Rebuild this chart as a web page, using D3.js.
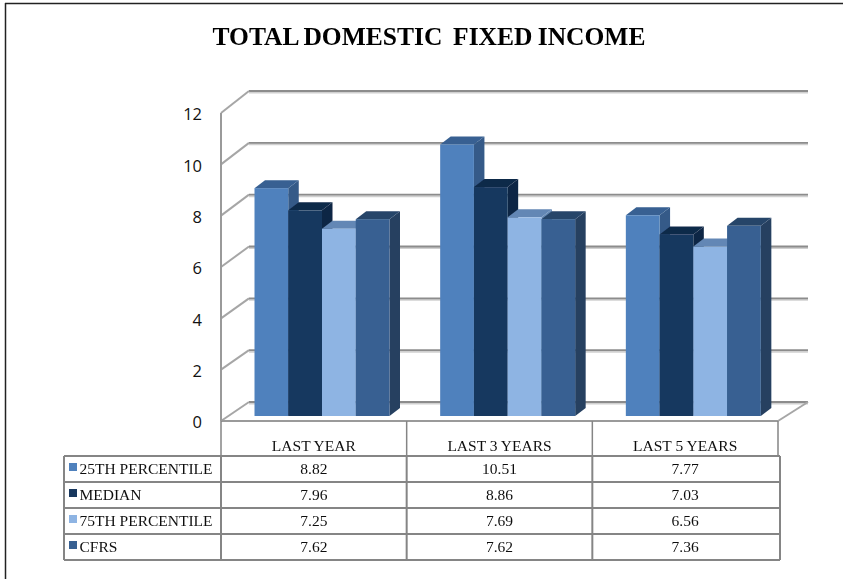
<!DOCTYPE html>
<html>
<head>
<meta charset="utf-8">
<script src="https://cdn.jsdelivr.net/npm/d3@7"></script>
<style>
html, body { margin: 0; padding: 0; background: #fff; overflow: hidden; }
svg { display: block; }
</style>
</head>
<body>
<div id="chart"></div>
<script>
// Donnees
const categories = ["LAST YEAR", "LAST 3 YEARS", "LAST 5 YEARS"];
const seriesNames = ["25TH PERCENTILE", "MEDIAN", "75TH PERCENTILE", "CFRS"];
const p25 = [8.82, 10.51, 7.77];
const median = [7.96, 8.86, 7.03];
const p75 = [7.25, 7.69, 6.56];
const cfrs = [7.62, 7.62, 7.36];
const yTicks = [0, 2, 4, 6, 8, 10, 12];

const seriesValues = [p25, median, p75, cfrs];
const front = ["#4f81bd", "#17375e", "#8eb4e3", "#376092"];
const top3d = ["#376092", "#10294a", "#6387b5", "#274569"];
const side = ["#345a88", "#0f2745", "#6388b4", "#254061"];

const width = 843, height = 579;

const svg = d3.select("#chart")
	.append("svg")
	.attr("width", width)
	.attr("height", height);

const defs = svg.append("defs");
defs.append("filter").attr("id", "soft")
	.append("feGaussianBlur").attr("stdDeviation", 0.55);
defs.append("filter").attr("id", "softText")
	.append("feGaussianBlur").attr("stdDeviation", 0.3);

// Cadre
const cadre = svg.append("g").attr("stroke", "#222").attr("stroke-width", 1.5);
cadre.append("line").attr("x1", 5).attr("x2", 843).attr("y1", 3.5).attr("y2", 3.5);
cadre.append("line").attr("x1", 5.5).attr("x2", 5.5).attr("y1", 3).attr("y2", 579);

svg.append("text")
	.attr("x", 429)
	.attr("y", 45)
	.attr("text-anchor", "middle")
	.attr("filter", "url(#softText)")
	.style("font-family", "'Liberation Serif'")
	.style("font-weight", "bold")
	.style("font-size", "25.5px")
	.style("word-spacing", "-1px")
	.attr("xml:space", "preserve")
	.text("TOTAL DOMESTIC  FIXED INCOME");

/***** Scales *****/
const xFront = d3.scaleBand().domain(categories).range([221, 778]);   // plan avant du plancher
const yFront = d3.scaleLinear().domain([0, 12]).range([421, 113]);
const yBack = d3.scaleLinear().domain([0, 12]).range([402, 91]);
const yBar = d3.scaleLinear().domain([0, 12]).range([416, 106]);

const depthWall = 28;
const backRight = 808;
const barBand = d3.scaleBand().domain(d3.range(seriesNames.length)).range([0, 135]);
const barOffset = 33.5;
const depthX = 10.5, depthY = 8;

/***** Mur du fond *****/
const grille = svg.append("g").attr("filter", "url(#soft)").attr("fill", "none");

grille.selectAll(".shadow")
	.data(yTicks)
	.enter()
	.append("line")
	.attr("x1", xFront.range()[0] + depthWall)
	.attr("x2", backRight)
	.attr("y1", d => yBack(d) + 1.5)
	.attr("y2", d => yBack(d) + 1.5)
	.attr("stroke", "#d0d0d0")
	.attr("stroke-width", 2);

grille.selectAll(".grid")
	.data(yTicks)
	.enter()
	.append("line")
	.attr("x1", xFront.range()[0] + depthWall)
	.attr("x2", backRight)
	.attr("y1", d => yBack(d))
	.attr("y2", d => yBack(d))
	.attr("stroke", "#8c8c8c")
	.attr("stroke-width", 1.8);

grille.selectAll(".diag")
	.data(yTicks)
	.enter()
	.append("line")
	.attr("x1", xFront.range()[0])
	.attr("x2", xFront.range()[0] + depthWall)
	.attr("y1", d => yFront(d))
	.attr("y2", d => yBack(d))
	.attr("stroke", "#a6a6a6")
	.attr("stroke-width", 2);

// plancher et axe vertical
grille.append("line")
	.attr("x1", xFront.range()[0]).attr("x2", xFront.range()[0])
	.attr("y1", yFront(12)).attr("y2", yFront(0))
	.attr("stroke", "#9a9a9a").attr("stroke-width", 2);
grille.append("line")
	.attr("x1", xFront.range()[0]).attr("x2", xFront.range()[1])
	.attr("y1", yFront(0)).attr("y2", yFront(0))
	.attr("stroke", "#9a9a9a").attr("stroke-width", 2);
grille.append("line")
	.attr("x1", xFront.range()[1]).attr("x2", backRight)
	.attr("y1", yFront(0)).attr("y2", yBack(0))
	.attr("stroke", "#a6a6a6").attr("stroke-width", 2);

/***** Barres *****/
const barres = svg.append("g").attr("filter", "url(#soft)");

categories.forEach(function(cat, c){
	const g = barres.append("g")
		.attr("transform", "translate(" + (xFront(cat) + barOffset) + ",0)");
	seriesValues.forEach(function(vals, s){
		const x0 = barBand(s), x1 = x0 + barBand.bandwidth();
		const yt = yBar(vals[c]), yb = yBar(0);
		g.append("path")
			.attr("d", "M" + x1 + "," + yt + "L" + (x1 + depthX) + "," + (yt - depthY) + "L" + (x1 + depthX) + "," + (yb - depthY) + "L" + x1 + "," + yb + "Z")
			.attr("fill", side[s]);
		g.append("path")
			.attr("d", "M" + x0 + "," + yt + "L" + (x0 + depthX) + "," + (yt - depthY) + "L" + (x1 + depthX) + "," + (yt - depthY) + "L" + x1 + "," + yt + "Z")
			.attr("fill", top3d[s]);
		g.append("rect")
			.attr("x", x0)
			.attr("y", yt)
			.attr("width", barBand.bandwidth())
			.attr("height", yb - yt)
			.attr("fill", front[s]);
	});
});

/***** Axe Y *****/
const axeY = svg.append("g")
	.attr("transform", "translate(202,1.5)")
	.call(d3.axisLeft(yFront).tickValues(yTicks).tickSize(0).tickPadding(0));
axeY.select(".domain").remove();
axeY.selectAll("text")
	.attr("fill", "#111")
	.style("font-family", "'Open Sans'")
	.style("font-size", "16.5px");

/***** Table *****/
const rowY = d3.scaleBand().domain(seriesNames).range([456, 560]);
const tableLeft = 64, tableRight = 780;
const table = svg.append("g").attr("filter", "url(#soft)").attr("stroke", "#858585").attr("stroke-width", 2);

// colonnes de l'en-tete
categories.concat(["end"]).forEach(function(cat, i){
	const x = i < categories.length ? xFront(cat) : xFront.range()[1];
	table.append("line")
		.attr("x1", x).attr("x2", x)
		.attr("y1", yFront(0)).attr("y2", rowY.range()[0])
		.attr("stroke-width", 1.5);
	table.append("line")
		.attr("x1", i < categories.length ? x : tableRight)
		.attr("x2", i < categories.length ? x : tableRight)
		.attr("y1", rowY.range()[0]).attr("y2", rowY.range()[1]);
});
table.append("line").attr("x1", tableLeft).attr("x2", tableLeft).attr("y1", rowY.range()[0]).attr("y2", rowY.range()[1]);
seriesNames.concat(["end"]).forEach(function(name, i){
	const y = i < seriesNames.length ? rowY(name) : rowY.range()[1];
	table.append("line")
		.attr("x1", tableLeft).attr("x2", tableRight)
		.attr("y1", y).attr("y2", y);
});

const cellStyle = sel => sel
	.style("font-family", "'Liberation Serif'")
	.style("font-size", "15.5px")
	.attr("filter", "url(#softText)")
	.attr("fill", "#111");

svg.selectAll(".cat")
	.data(categories)
	.enter()
	.append("text")
	.attr("x", d => xFront(d) + xFront.bandwidth() / 2)
	.attr("y", 451)
	.attr("text-anchor", "middle")
	.text(d => d)
	.call(cellStyle);

seriesNames.forEach(function(name, s){
	const base = rowY(name) + 18;
	svg.append("rect")
		.attr("x", 69).attr("y", rowY(name) + 7)
		.attr("width", 8).attr("height", 8)
		.attr("fill", front[s]);
	svg.append("text")
		.attr("x", 79.5).attr("y", base)
		.text(name)
		.call(cellStyle);
	svg.selectAll(".val" + s)
		.data(seriesValues[s])
		.enter()
		.append("text")
		.attr("x", (d, i) => xFront(categories[i]) + xFront.bandwidth() / 2)
		.attr("y", base)
		.attr("text-anchor", "middle")
		.text(d => d.toFixed(2))
		.call(cellStyle);
});
</script>
</body>
</html>
